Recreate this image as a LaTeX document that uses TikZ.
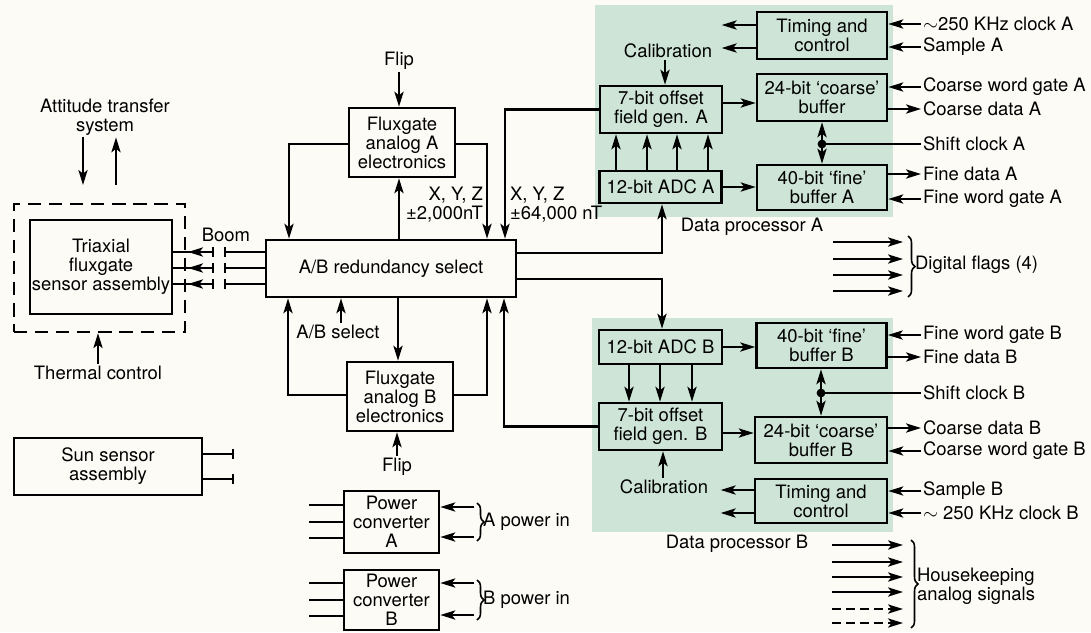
\documentclass[tikz,border=0pt]{standalone}
\usepackage{fontspec}
\setmainfont{TeX Gyre Heros}
\usepackage{xcolor}
\usepackage{tikz}
\usetikzlibrary{arrows.meta, positioning, calc, decorations.pathreplacing}
\definecolor{paper}{RGB}{253, 251, 245}
\definecolor{dpshade}{RGB}{205, 228, 215}

\begin{document}
\begin{tikzpicture}[
    x=0.02cm, y=-0.02cm,
    every node/.style={font=\fontsize{10.5}{10.8}\selectfont, inner sep=1pt},
    blk/.style={draw, line width=1.5pt, align=center},
    sig/.style={-{Stealth[length=8.5pt, width=5.2pt, inset=2pt]}, line width=1.3pt},
    wire/.style={line width=1.3pt},
    brc/.style={decorate, decoration={brace, amplitude=4pt}, line width=0.9pt}
]

% Paper and shaded processors
\useasboundingbox (0, 0) rectangle (1091, 632);
\fill[paper] (0, 0) rectangle (1091, 632);
\fill[dpshade] (595, 5) rectangle (893, 217);
\fill[dpshade] (592, 318) rectangle (893, 532);

% Sensor side
\node[blk, minimum width=2.84cm, minimum height=1.88cm] (triax) at (101, 267) {Triaxial\\fluxgate\\sensor assembly};
\node[draw, line width=1.3pt, dash pattern=on 7.5pt off 4.5pt, minimum width=3.42cm, minimum height=2.56cm] (therm) at (99.5, 268) {};
\node[align=center] (att) at (105, 117) {Attitude transfer\\system};
\coordinate (attdn) at (83, 185);
\coordinate (attup) at (116, 185);
\draw[sig] (att.south -| attdn) -- (attdn);
\draw[sig] (attup) -- (att.south -| attup);
\node (thermal) at (98, 373) {Thermal control};
\draw[sig] (thermal.north) -- (thermal.north |- therm.south);

\node[blk, minimum width=3.76cm, minimum height=1.14cm] (sun) at (108, 466.5) {Sun sensor\\assembly};
\foreach \y in {454, 479}
    \draw[wire, -{Bar[width=6pt]}] (sun.east |- 0, \y) -- ++(31, 0);

% Boom
\node[blk, minimum width=5cm, minimum height=1.14cm] (absel) at (391, 268.5) {A/B redundancy select};
\node (boom) at (226, 235) {Boom};
\foreach \y in {252, 268, 284} {
    \draw[wire, -{Bar[width=6pt]}] (triax.east |- 0, \y) -- (214, \y);
    \draw[wire, {Bar[width=6pt]}-] (224, \y) -- (absel.west |- 0, \y);
    \draw[sig] (214, \y) -- (188, \y);
}

% Fluxgate electronics
\node[blk, minimum width=2.12cm, minimum height=1.38cm] (fluxA) at (402, 142.5) {Fluxgate\\analog A\\electronics};
\node[blk, minimum width=2.12cm, minimum height=1.38cm] (fluxB) at (400, 396.5) {Fluxgate\\analog B\\electronics};
\node (flipA) at (399, 61) {Flip};
\node (flipB) at (397, 467) {Flip};
\draw[sig] (flipA.south) -- (flipA.south |- fluxA.north);
\draw[sig] (flipB.north) -- (flipB.north |- fluxB.south);

\draw[sig] (fluxA.west |- 0, 144) -| (absel.north -| 289, 0);
\draw[sig] (fluxA.east |- 0, 144) -| (absel.north -| 487, 0);
\draw[sig] (absel.north -| 399, 0) -- (fluxA.south -| 399, 0);
\draw[sig] (fluxB.west |- 0, 395) -| (absel.south -| 288, 0);
\draw[sig] (fluxB.east |- 0, 395) -| (absel.south -| 487, 0);
\draw[sig] (absel.south -| 398, 0) -- (fluxB.north -| 398, 0);

\node (absw) at (338, 332) {A/B select};
\draw[sig] (absw.north -| 341, 0) -- (absel.south -| 341, 0);

\node[anchor=east, align=right] (xyzlo) at (485, 205) {X, Y, Z\\±2,000nT};
\node[anchor=west, align=left] (xyzhi) at (508, 205) {X, Y, Z\\±64,000 nT};

% Power converters
\node[blk, minimum width=1.9cm, minimum height=1.24cm] (pwrA) at (391.5, 522) {Power\\converter\\A};
\node[blk, minimum width=1.9cm, minimum height=1.2cm] (pwrB) at (391.5, 600) {Power\\converter\\B};
\foreach \y in {505, 522, 538}
    \draw[wire] (pwrA.west |- 0, \y) -- ++(-34, 0);
\foreach \y in {583, 600, 616}
    \draw[wire] (pwrB.west |- 0, \y) -- ++(-34, 0);
\foreach \y in {507, 537}
    \draw[sig] (pwrA.east |- 0, \y) ++(34, 0) -- (pwrA.east |- 0, \y);
\foreach \y in {583, 615}
    \draw[sig] (pwrB.east |- 0, \y) ++(34, 0) -- (pwrB.east |- 0, \y);
\draw[brc] (477, 503) -- (477, 541);
\draw[brc] (477, 580) -- (477, 620);
\node[anchor=west] (pinA) at (481, 522) {A power in};
\node[anchor=west] (pinB) at (481, 600) {B power in};

% Data processor A
\node[blk, minimum width=2.6cm, minimum height=0.94cm] (timA) at (822, 35.5) {Timing and\\control};
\node[blk, minimum width=2.6cm, minimum height=0.94cm] (coarseA) at (822, 97.5) {24-bit ‘coarse’\\buffer};
\node[blk, minimum width=2.6cm, minimum height=0.9cm] (fineA) at (822, 187.5) {40-bit ‘fine’\\buffer A};
\node[blk, minimum width=2.44cm, minimum height=0.94cm] (offA) at (661, 109.5) {7-bit offset\\field gen. A};
\node[blk, minimum width=2.44cm, minimum height=0.64cm] (adcA) at (660.5, 187) {12-bit ADC A};
\node (calA) at (668, 51) {Calibration};
\node (dpA) at (752, 227) {Data processor A};

\foreach \y in {25, 48}
    \draw[sig] (timA.west |- 0, \y) -- ++(-34, 0);
\draw[sig] (calA.south -| 665, 0) -- (offA.north -| 665, 0);
\draw[sig] (offA.east |- 0, 103) -- (coarseA.west |- 0, 103);
\foreach \x in {616, 647, 677, 708}
    \draw[sig] (adcA.north -| \x, 0) -- (offA.south -| \x, 0);
\draw[sig] (adcA.east) -- (adcA.east -| fineA.west);
\draw[sig] (offA.west) -| (absel.north -| 505, 0);
\draw[sig] (absel.east |- 0, 253) -| (adcA.south -| 662, 0);

% Data processor B
\node[blk, minimum width=2.6cm, minimum height=0.9cm] (fineB) at (821.5, 345.5) {40-bit ‘fine’\\buffer B};
\node[blk, minimum width=2.64cm, minimum height=0.92cm] (coarseB) at (821, 440) {24-bit ‘coarse’\\buffer B};
\node[blk, minimum width=2.64cm, minimum height=0.88cm] (timB) at (821, 501) {Timing and\\control};
\node[blk, minimum width=2.46cm, minimum height=0.68cm] (adcB) at (660.5, 347) {12-bit ADC B};
\node[blk, minimum width=2.46cm, minimum height=0.94cm] (offB) at (660.5, 426.5) {7-bit offset\\field gen. B};
\node (calB) at (664, 487) {Calibration};
\node (dpB) at (737, 544) {Data processor B};

\foreach \y in {490, 513}
    \draw[sig] (timB.west |- 0, \y) -- ++(-33, 0);
\draw[sig] (calB.north -| 663, 0) -- (offB.south -| 663, 0);
\draw[sig] (offB.east |- 0, 433) -- (coarseB.west |- 0, 433);
\foreach \x in {629, 660, 692}
    \draw[sig] (adcB.south -| \x, 0) -- (offB.north -| \x, 0);
\draw[sig] (adcB.east) -- (adcB.east -| fineB.west);
\draw[sig] (offB.west) -| (absel.south -| 504, 0);
\draw[sig] (absel.east |- 0, 279) -| (adcB.north -| 662, 0);

% External signals
\foreach \n/\y/\t in {clkA/24/{$\sim$250 KHz clock A}, smpA/47/Sample A, cwgA/87/Coarse word gate A, cdA/109/Coarse data A, shA/144/Shift clock A, fdA/174/Fine data A, fwgA/199/Fine word gate A, fwgB/335/Fine word gate B, fdB/357/Fine data B, shB/393/Shift clock B, cdB/428/Coarse data B, cwgB/451/Coarse word gate B, smpB/491/Sample B, clkB/513/{$\sim$ 250 KHz clock B}} {
    \node[anchor=west] (\n) at (921, \y) {\t};
}
\foreach \n/\b in {clkA/timA, smpA/timA, cwgA/coarseA, fwgA/fineA, fwgB/fineB, cwgB/coarseB, smpB/timB, clkB/timB}
    \draw[sig] (\n.west) -- (\n.west -| \b.east);
\foreach \n/\b in {cdA/coarseA, fdA/fineA, fdB/fineB, cdB/coarseB}
    \draw[sig] (\n.west -| \b.east) -- (\n.west);

% Shift clocks
\coordinate (shdotA) at (822, 144);
\coordinate (shdotB) at (821, 393);
\fill (shdotA) circle (2.5pt);
\fill (shdotB) circle (2.5pt);
\draw[sig] (shdotA) -- (shdotA |- coarseA.south);
\draw[sig] (shdotA) -- (shdotA |- fineA.north);
\draw[wire] (shdotA) -- (shA.west);
\draw[sig] (shdotB) -- (shdotB |- fineB.south);
\draw[sig] (shdotB) -- (shdotB |- coarseB.north);
\draw[wire] (shdotB) -- (shB.west);

% Flags and housekeeping
\coordinate (flagtop) at (908, 236);
\coordinate (flagbot) at (908, 297);
\draw[brc] (flagtop) -- (flagbot);
\node[anchor=west] (flags) at (913, 265) {Digital flags (4)};
\foreach \y in {242, 259, 275, 291}
    \draw[sig] (flagtop |- 0, \y) ++(-75, 0) -- ++(70, 0);

\coordinate (hktop) at (911, 540);
\coordinate (hkbot) at (911, 628);
\draw[brc] (hktop) -- (hkbot);
\node[anchor=west, align=left] (hk) at (915, 586) {Housekeeping\\analog signals};
\foreach \y in {545, 562, 577, 592}
    \draw[sig] (hktop |- 0, \y) ++(-79, 0) -- ++(71, 0);
\foreach \y in {609, 623}
    \draw[sig, dash pattern=on 5pt off 3pt] (hktop |- 0, \y) ++(-79, 0) -- ++(71, 0);

\end{tikzpicture}
\end{document}
